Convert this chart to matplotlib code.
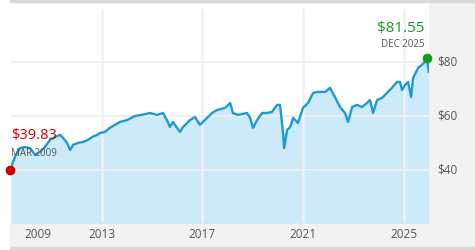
import matplotlib
matplotlib.use("Agg")
import matplotlib.pyplot as plt
from matplotlib.patches import Rectangle

# datos (anio decimal, precio)
anios = [2009.40, 2009.44, 2009.56, 2009.76, 2009.96, 2010.16, 2010.36, 2010.56, 2010.75, 2010.95,
         2011.15, 2011.35, 2011.47, 2011.63, 2011.75, 2011.87, 2012.06, 2012.26, 2012.46, 2012.62,
         2012.82, 2012.94, 2013.13, 2013.33, 2013.53, 2013.73, 2014.01, 2014.33, 2014.60, 2014.92,
         2015.20, 2015.44, 2015.63, 2015.71, 2015.83, 2016.11, 2016.23, 2016.51, 2016.71, 2016.90,
         2017.10, 2017.38, 2017.58, 2017.90, 2018.10, 2018.21, 2018.41, 2018.77, 2018.89, 2019.01,
         2019.17, 2019.37, 2019.56, 2019.76, 2019.96, 2020.08, 2020.20, 2020.24, 2020.36, 2020.48,
         2020.60, 2020.75, 2020.79, 2020.99, 2021.19, 2021.39, 2021.55, 2021.75, 2021.87, 2022.06,
         2022.26, 2022.46, 2022.66, 2022.78, 2022.94, 2023.13, 2023.33, 2023.53, 2023.65, 2023.77,
         2023.93, 2024.13, 2024.32, 2024.52, 2024.72, 2024.84, 2024.92, 2025.04, 2025.16, 2025.28,
         2025.36, 2025.56, 2025.79, 2025.91, 2025.98]
precios = [39.83, 41.9, 44.8, 48.1, 48.5, 48.1, 45.6, 46.7, 48.5, 51.1,
           52.2, 53.0, 51.9, 50.0, 47.4, 49.3, 50.0, 50.4, 51.1, 52.2,
           53.0, 53.7, 54.1, 55.6, 56.7, 57.8, 58.5, 60.0, 60.4, 61.1,
           60.4, 61.1, 57.8, 55.9, 57.8, 54.1, 55.9, 58.5, 59.6, 56.7,
           58.5, 61.1, 62.2, 63.0, 64.8, 61.1, 60.4, 61.1, 59.3, 55.6,
           58.5, 61.1, 61.1, 61.5, 64.1, 64.1, 53.7, 48.1, 54.8, 55.9,
           59.3, 57.8, 57.4, 63.0, 64.8, 68.5, 68.9, 68.9, 68.9, 70.4,
           67.0, 63.3, 61.1, 57.8, 63.3, 64.1, 63.3, 64.8, 65.9, 61.1,
           65.9, 66.7, 68.5, 70.4, 72.6, 72.6, 69.6, 71.5, 72.6, 67.0,
           74.1, 77.8, 79.6, 81.55, 76.3]

ticks_y = [40, 60, 80]
ticks_x = [2013, 2017, 2021, 2025]
etiqueta_inicio = ("$39.83", "MAR 2009", 2009.37, 39.83)
etiqueta_fin = ("$81.55", "DEC 2025", 2025.91, 81.55)

W, H = 475, 250
fig = plt.figure(figsize=(W / 100, H / 100), dpi=100, facecolor="white")
plt.rcParams["font.family"] = ["Open Sans", "DejaVu Sans"]


def rect(x0, y0, x1, y1, color):
    # coordenadas en pixeles con origen arriba a la izquierda
    fig.patches.append(Rectangle((x0 / W, 1 - y1 / H), (x1 - x0) / W, (y1 - y0) / H,
                                 transform=fig.transFigure, color=color, zorder=-5))


rect(429, 0, W, 248, "#f2f2f2")
rect(10, 223, 429, 247, "#f2f2f2")
rect(10, 0, W, 2, "#d9d9d9")
rect(10, 247, W, H, "#d9d9d9")

ax = fig.add_axes([11 / W, 1 - 223 / H, (429 - 11) / W, (223 - 9) / H])
ax.set_facecolor("white")
for s in ax.spines.values():
    s.set_visible(False)

ax.fill_between(anios, precios, 0, color="#cdeaf8", zorder=1, linewidth=0)
for t in ticks_x:
    ax.axvline(t, color="#eef3f6", lw=1.8, zorder=2)
for t in ticks_y:
    ax.axhline(t, color="#f0f0f0", lw=1.4, zorder=2)
ax.plot(anios, precios, color="#1a9bd7", lw=1.7, zorder=3)

ax.set_xlim(2009.405, 2025.99)
ax.set_ylim(20.37, 99.6)
ax.set_xticks([])
ax.set_yticks([])

# etiquetas de ejes fuera del area
for t in ticks_y:
    ax.text(1.0 + 8 / 418, t, "$%d" % t, transform=ax.get_yaxis_transform(),
            ha="left", va="center", fontsize=8.5, color="#555555", clip_on=False)
for t in ticks_x:
    ax.text(t, -12 / 214, str(t), transform=ax.get_xaxis_transform(),
            ha="center", va="center", fontsize=8.5, color="#555555", clip_on=False)
ax.text(2010.48, -12 / 214, "2009", transform=ax.get_xaxis_transform(),
        ha="center", va="center", fontsize=8.5, color="#555555", clip_on=False)

# marcadores inicio / fin
txt, fecha, xv, yv = etiqueta_inicio
ax.plot([xv], [yv], "o", color="#cc0000", ms=6, zorder=5, clip_on=False)
ax.text(xv + 0.05, yv + 13.0, txt, ha="left", va="center", fontsize=10.5, color="#cc0000", zorder=6)
ax.text(xv + 0.05, yv + 6.4, fecha, ha="left", va="center", fontsize=7, color="#555555", zorder=6)

txt, fecha, xv, yv = etiqueta_fin
ax.plot([xv], [yv], "o", color="#1a9a1a", ms=6, zorder=5, clip_on=False)
ax.text(xv - 0.1, yv + 11.0, txt, ha="right", va="center", fontsize=11, color="#1a9a1a", zorder=6)
ax.text(xv - 0.1, yv + 5.0, fecha, ha="right", va="center", fontsize=7, color="#555555", zorder=6)

fig.savefig("out.png", dpi=100, facecolor=fig.get_facecolor())
